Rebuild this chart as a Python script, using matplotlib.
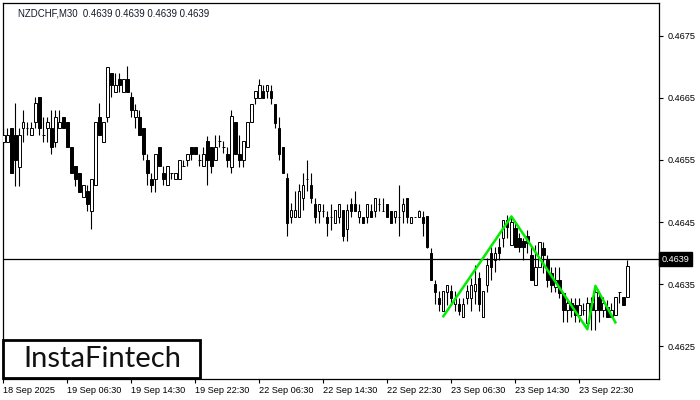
import numpy as np
import matplotlib
matplotlib.use("Agg")
import matplotlib.pyplot as plt
from matplotlib.patches import Rectangle
import matplotlib.transforms as mtransforms

plt.rcParams['font.family'] = ['Liberation Sans', 'DejaVu Sans']

# NZDCHF M30 candles
opens = [0.46579, 0.46579, 0.46602, 0.46590, 0.46539, 0.46602, 0.46602, 0.46590, 0.46611, 0.46652,
         0.46590, 0.46602, 0.46602, 0.46579, 0.46602, 0.46619, 0.46611, 0.46571, 0.46540, 0.46529,
         0.46490, 0.46500, 0.46468, 0.46510, 0.46619, 0.46579, 0.46619, 0.46690, 0.46660, 0.46681,
         0.46660, 0.46681, 0.46652, 0.46619, 0.46619, 0.46602, 0.46550, 0.46519, 0.46519, 0.46571,
         0.46529, 0.46510, 0.46529, 0.46519, 0.46519, 0.46540, 0.46550, 0.46571, 0.46571, 0.46550,
         0.46540, 0.46581, 0.46571, 0.46550, 0.46581, 0.46571, 0.46560, 0.46539, 0.46611, 0.46560,
         0.46550, 0.46571, 0.46611, 0.46650, 0.46650, 0.46661, 0.46661, 0.46661, 0.46640, 0.46602,
         0.46571, 0.46521, 0.46458, 0.46458, 0.46458, 0.46489, 0.46519, 0.46510, 0.46479, 0.46468,
         0.46468, 0.46458, 0.46458, 0.46448, 0.46458, 0.46469, 0.46439, 0.46479, 0.46479, 0.46458,
         0.46458, 0.46458, 0.46468, 0.46468, 0.46479, 0.46468, 0.46479, 0.46468, 0.46458, 0.46458,
         0.46468, 0.46489, 0.46448, 0.46458, 0.46458, 0.46458, 0.46460, 0.46400, 0.46350, 0.46327,
         0.46306, 0.46337, 0.46339, 0.46318, 0.46318, 0.46297, 0.46327, 0.46327, 0.46339, 0.46360,
         0.46297, 0.46348, 0.46400, 0.46389, 0.46410, 0.46424, 0.46453, 0.46413, 0.46440, 0.46424,
         0.46419, 0.46427, 0.46397, 0.46348, 0.46377, 0.46408, 0.46389, 0.46368, 0.46345, 0.46356,
         0.46335, 0.46308, 0.46319, 0.46316, 0.46300, 0.46308, 0.46287, 0.46319, 0.46308, 0.46329,
         0.46308, 0.46313, 0.46297, 0.46300, 0.46337, 0.46329, 0.46329]
highs = [0.46602, 0.46602, 0.46602, 0.46642, 0.46602, 0.46631, 0.46611, 0.46611, 0.46652, 0.46652,
         0.46619, 0.46619, 0.46631, 0.46631, 0.46631, 0.46619, 0.46611, 0.46571, 0.46540, 0.46529,
         0.46510, 0.46510, 0.46519, 0.46611, 0.46642, 0.46611, 0.46700, 0.46690, 0.46690, 0.46690,
         0.46681, 0.46702, 0.46660, 0.46640, 0.46631, 0.46602, 0.46560, 0.46529, 0.46560, 0.46571,
         0.46540, 0.46540, 0.46529, 0.46529, 0.46550, 0.46550, 0.46560, 0.46571, 0.46571, 0.46560,
         0.46571, 0.46589, 0.46571, 0.46590, 0.46590, 0.46581, 0.46571, 0.46631, 0.46611, 0.46590,
         0.46581, 0.46611, 0.46640, 0.46661, 0.46681, 0.46671, 0.46671, 0.46671, 0.46640, 0.46619,
         0.46571, 0.46529, 0.46481, 0.46500, 0.46511, 0.46529, 0.46550, 0.46529, 0.46489, 0.46479,
         0.46479, 0.46468, 0.46479, 0.46469, 0.46479, 0.46469, 0.46479, 0.46489, 0.46500, 0.46479,
         0.46458, 0.46479, 0.46479, 0.46489, 0.46489, 0.46489, 0.46479, 0.46468, 0.46468, 0.46510,
         0.46489, 0.46489, 0.46458, 0.46458, 0.46469, 0.46468, 0.46460, 0.46408, 0.46356, 0.46339,
         0.46339, 0.46348, 0.46348, 0.46339, 0.46327, 0.46327, 0.46348, 0.46360, 0.46381, 0.46369,
         0.46339, 0.46392, 0.46410, 0.46410, 0.46424, 0.46453, 0.46461, 0.46458, 0.46450, 0.46432,
         0.46424, 0.46437, 0.46413, 0.46413, 0.46418, 0.46418, 0.46397, 0.46377, 0.46377, 0.46377,
         0.46335, 0.46327, 0.46327, 0.46327, 0.46327, 0.46319, 0.46329, 0.46329, 0.46345, 0.46337,
         0.46329, 0.46324, 0.46319, 0.46329, 0.46337, 0.46329, 0.46389]
lows = [0.46571, 0.46579, 0.46529, 0.46508, 0.46508, 0.46579, 0.46590, 0.46590, 0.46602, 0.46590,
        0.46579, 0.46579, 0.46560, 0.46571, 0.46602, 0.46602, 0.46571, 0.46529, 0.46508, 0.46498,
        0.46490, 0.46468, 0.46439, 0.46510, 0.46590, 0.46579, 0.46611, 0.46652, 0.46660, 0.46660,
        0.46660, 0.46660, 0.46619, 0.46602, 0.46590, 0.46550, 0.46510, 0.46498, 0.46498, 0.46540,
        0.46510, 0.46510, 0.46519, 0.46519, 0.46519, 0.46540, 0.46540, 0.46550, 0.46560, 0.46540,
        0.46540, 0.46510, 0.46529, 0.46550, 0.46571, 0.46561, 0.46539, 0.46529, 0.46560, 0.46539,
        0.46539, 0.46571, 0.46611, 0.46640, 0.46650, 0.46650, 0.46650, 0.46640, 0.46602, 0.46550,
        0.46529, 0.46427, 0.46448, 0.46458, 0.46458, 0.46469, 0.46500, 0.46481, 0.46448, 0.46448,
        0.46458, 0.46427, 0.46437, 0.46448, 0.46448, 0.46419, 0.46419, 0.46458, 0.46468, 0.46448,
        0.46448, 0.46448, 0.46458, 0.46458, 0.46468, 0.46468, 0.46458, 0.46448, 0.46448, 0.46427,
        0.46448, 0.46448, 0.46448, 0.46458, 0.46458, 0.46427, 0.46408, 0.46356, 0.46318, 0.46306,
        0.46306, 0.46316, 0.46318, 0.46306, 0.46300, 0.46297, 0.46318, 0.46306, 0.46318, 0.46306,
        0.46297, 0.46337, 0.46356, 0.46369, 0.46389, 0.46410, 0.46424, 0.46413, 0.46410, 0.46402,
        0.46389, 0.46400, 0.46356, 0.46348, 0.46377, 0.46368, 0.46345, 0.46337, 0.46337, 0.46327,
        0.46289, 0.46289, 0.46297, 0.46289, 0.46289, 0.46300, 0.46279, 0.46276, 0.46276, 0.46289,
        0.46297, 0.46297, 0.46297, 0.46300, 0.46319, 0.46316, 0.46329]
closes = [0.46590, 0.46590, 0.46529, 0.46550, 0.46590, 0.46611, 0.46602, 0.46602, 0.46642, 0.46602,
          0.46590, 0.46611, 0.46571, 0.46619, 0.46611, 0.46602, 0.46571, 0.46529, 0.46519, 0.46498,
          0.46510, 0.46479, 0.46519, 0.46611, 0.46590, 0.46611, 0.46700, 0.46671, 0.46671, 0.46671,
          0.46681, 0.46660, 0.46631, 0.46631, 0.46590, 0.46560, 0.46529, 0.46510, 0.46560, 0.46540,
          0.46519, 0.46540, 0.46529, 0.46529, 0.46550, 0.46540, 0.46560, 0.46560, 0.46560, 0.46550,
          0.46560, 0.46550, 0.46540, 0.46571, 0.46581, 0.46571, 0.46550, 0.46621, 0.46560, 0.46550,
          0.46581, 0.46611, 0.46640, 0.46661, 0.46671, 0.46650, 0.46671, 0.46650, 0.46610, 0.46560,
          0.46529, 0.46448, 0.46469, 0.46469, 0.46500, 0.46510, 0.46519, 0.46489, 0.46458, 0.46479,
          0.46468, 0.46448, 0.46458, 0.46469, 0.46479, 0.46427, 0.46469, 0.46468, 0.46468, 0.46468,
          0.46448, 0.46479, 0.46458, 0.46489, 0.46479, 0.46468, 0.46458, 0.46448, 0.46468, 0.46458,
          0.46479, 0.46458, 0.46458, 0.46458, 0.46468, 0.46448, 0.46410, 0.46356, 0.46337, 0.46318,
          0.46339, 0.46348, 0.46327, 0.46327, 0.46306, 0.46318, 0.46339, 0.46348, 0.46350, 0.46318,
          0.46339, 0.46381, 0.46377, 0.46400, 0.46400, 0.46453, 0.46442, 0.46450, 0.46410, 0.46410,
          0.46410, 0.46416, 0.46356, 0.46377, 0.46418, 0.46397, 0.46356, 0.46348, 0.46356, 0.46335,
          0.46308, 0.46319, 0.46308, 0.46300, 0.46316, 0.46308, 0.46319, 0.46308, 0.46337, 0.46308,
          0.46319, 0.46297, 0.46308, 0.46329, 0.46337, 0.46316, 0.46379]

# double bottom pattern lines (bar index, price)
pattern_idx = [110, 127, 146, 148, 153]
pattern_price = [0.46298, 0.46459, 0.46277, 0.46347, 0.46288]

bid = 0.4639
date_ticks = [0, 16, 32, 48, 64, 80, 96, 112, 128, 144]
date_labels = ['18 Sep 2025', '19 Sep 06:30', '19 Sep 14:30', '19 Sep 22:30', '22 Sep 06:30',
               '22 Sep 14:30', '22 Sep 22:30', '23 Sep 06:30', '23 Sep 14:30', '23 Sep 22:30']
price_ticks = [0.4625, 0.4635, 0.4645, 0.4655, 0.4665, 0.4675]

W, H = 700, 400
fig = plt.figure(figsize=(7, 4), dpi=100)
ax = fig.add_axes([3 / W, 21 / H, 656 / W, 376 / H])

x = np.arange(len(closes))
o = np.array(opens)
c = np.array(closes)
up = c >= o

ax.vlines(x, lows, highs, color='black', linewidth=0.8, zorder=2)
body_lo = np.minimum(o, c)
body_h = np.abs(c - o)
ax.bar(x, body_h, bottom=body_lo, width=0.55,
       color=np.where(up, 'white', 'black'), edgecolor='black', linewidth=0.7, zorder=3)

ax.axhline(bid, color='black', linewidth=0.9, zorder=4)
ax.plot(pattern_idx, pattern_price, color='#00ee00', linewidth=1.8, zorder=5)

ax.set_xlim(-0.1, 163.9)
ax.set_ylim(0.461968, 0.468032)

ax.set_xticks(date_ticks)
ax.set_xticklabels(date_labels, ha='left', fontsize=6.6)
ax.tick_params(axis='x', direction='out', length=3, width=0.8, pad=2)
ax.yaxis.tick_right()
ax.set_yticks(price_ticks)
ax.set_yticklabels([f'{p:.4f}' for p in price_ticks], fontsize=6.6)
ax.tick_params(axis='y', direction='out', length=3, width=0.8, pad=3)
for s in ax.spines.values():
    s.set_linewidth(0.9)

trans = mtransforms.blended_transform_factory(ax.transAxes, ax.transData)
ax.text(1.004, bid, f'{bid:.4f}', transform=trans, color='white', fontsize=6.6,
        va='center', ha='left', clip_on=False,
        bbox=dict(facecolor='black', edgecolor='black', boxstyle='square,pad=0.25'))

fig.text(18 / W, 1 - 13 / H, 'NZDCHF,M30  0.4639 0.4639 0.4639 0.4639',
         fontsize=6.9, va='center', ha='left', color='#101828')

fig.patches.append(Rectangle((3 / W, 1 - 378 / H), 197 / W, 38 / H, transform=fig.transFigure,
                             facecolor='white', edgecolor='black', linewidth=2, zorder=10))
fig.text(102 / W, 1 - 359 / H, 'InstaFintech', fontsize=21, family='Lato',
         va='center', ha='center', color='#111111', zorder=11)

fig.savefig('out.png', dpi=100)
